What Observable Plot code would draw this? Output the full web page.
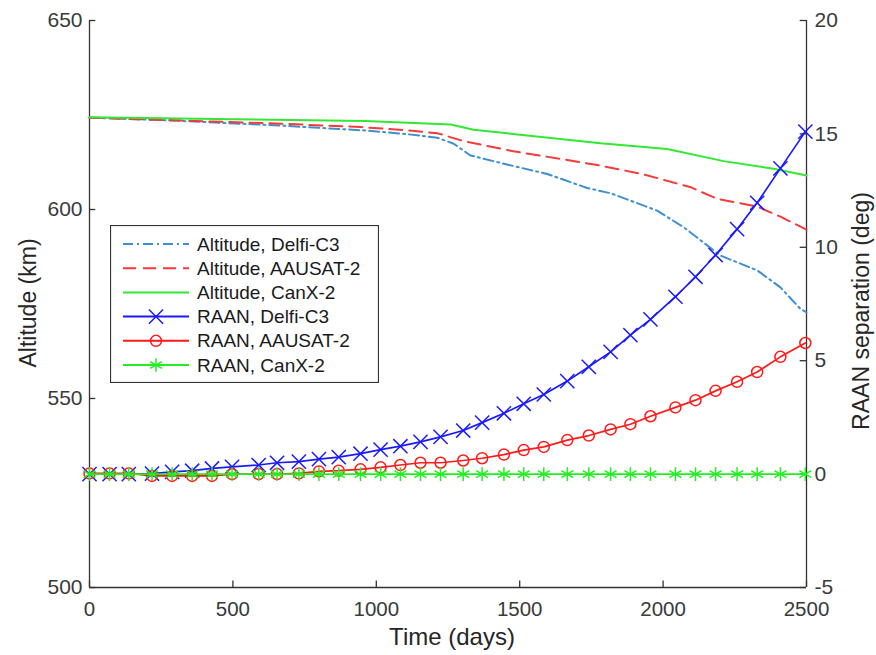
<!DOCTYPE html>
<html>
<head>
<meta charset="utf-8">
<script src="https://cdn.jsdelivr.net/npm/d3@7"></script>
<script src="https://cdn.jsdelivr.net/npm/@observablehq/plot@0.6"></script>
<style>
  html, body { margin: 0; padding: 0; background: #fff; }
  #wrap { position: relative; width: 876px; height: 655px; font-family: "Liberation Sans", Arial, sans-serif; }
  #legend { position: absolute; left: 110px; top: 225px; }
</style>
</head>
<body>
<div id="wrap"><div id="chart"></div><svg id="legend" width="269" height="158"></svg></div>
<script>
// ---- data ----
const xTicks = [0, 500, 1000, 1500, 2000, 2500];
const altTicks = [500, 550, 600, 650];
const raanTicks = [-5, 0, 5, 10, 15, 20];

// Altitude (km)
const altTimeDelfi = [0, 300, 666, 962, 1100, 1212, 1270, 1328, 1445, 1596, 1735, 1817, 1979, 2072, 2154, 2200, 2328, 2409, 2479, 2500];
const altDelfi     = [624.3, 623.5, 622.2, 620.9, 620.0, 619.0, 617.4, 614.3, 612.1, 609.4, 605.7, 604.3, 599.7, 595.3, 590.5, 587.8, 583.9, 579.4, 573.7, 572.8];
const altTimeAausat = [0, 300, 666, 945, 1100, 1212, 1304, 1478, 1666, 1782, 1932, 2096, 2189, 2328, 2409, 2500];
const altAausat     = [624.3, 623.6, 622.7, 621.8, 621.0, 620.2, 618.1, 615.4, 613.1, 611.6, 609.3, 605.9, 602.8, 600.8, 598.1, 594.7];
const altTimeCanx = [0, 500, 962, 1259, 1339, 1526, 1782, 2014, 2211, 2385, 2500];
const altCanx     = [624.4, 623.9, 623.4, 622.5, 621.1, 619.6, 617.5, 616.0, 612.8, 610.8, 609.0];

// RAAN separation (deg)
const raanTime = [0, 70, 137, 218, 288, 358, 427, 497, 590, 654, 730, 800, 869, 945, 1015, 1084, 1154, 1224, 1303, 1369, 1445, 1514, 1584, 1666, 1741, 1817, 1886, 1956, 2043, 2113, 2183, 2258, 2328, 2409, 2496];
const raanDelfi  = [0, 0, 0, 0.02, 0.1, 0.15, 0.25, 0.32, 0.4, 0.5, 0.55, 0.66, 0.75, 0.9, 1.08, 1.23, 1.42, 1.64, 1.92, 2.27, 2.68, 3.1, 3.51, 4.1, 4.73, 5.39, 6.13, 6.82, 7.82, 8.7, 9.66, 10.8, 11.96, 13.48, 15.1];
const raanAausat = [0.03, 0.03, 0.03, -0.08, -0.08, -0.08, -0.08, 0, 0, 0, 0.03, 0.12, 0.15, 0.21, 0.3, 0.4, 0.5, 0.5, 0.6, 0.7, 0.86, 1.06, 1.2, 1.5, 1.7, 1.97, 2.2, 2.55, 2.94, 3.26, 3.67, 4.07, 4.5, 5.17, 5.78];
const raanCanx   = [0, 0, 0, 0, 0, 0, 0, 0, 0, 0, 0, 0, 0, 0, 0, 0, 0, 0, 0, 0, 0, 0, 0, 0, 0, 0, 0, 0, 0, 0, 0, 0, 0, 0, 0];

const legendLabels = ["Altitude, Delfi-C3", "Altitude, AAUSAT-2", "Altitude, CanX-2", "RAAN, Delfi-C3", "RAAN, AAUSAT-2", "RAAN, CanX-2"];

// ---- styles ----
const cAltDelfi = "#3d8fd1", cAltAausat = "#f43a3a", cAltCanx = "#33e833";
const cRDelfi = "#1a1aff", cRAausat = "#ff1a1a", cRCanx = "#22ee22";
const dashDotted = "10,4,2,4", dashed = "13,7";
const axisColor = "#333";
const font = "'Liberation Sans', Arial, sans-serif";

// right axis maps RAAN [-5,20] onto altitude [500,650]
const toAlt = r => 500 + (r + 5) * 6;
const fromAlt = a => Math.round((a - 500) / 6 - 5);

const rows = (t, v) => t.map((x, i) => ({t: x, v: v[i]}));
const aD = rows(altTimeDelfi, altDelfi), aA = rows(altTimeAausat, altAausat), aC = rows(altTimeCanx, altCanx);
const rD = rows(raanTime, raanDelfi), rA = rows(raanTime, raanAausat), rC = rows(raanTime, raanCanx);

const chart = Plot.plot({
  width: 876, height: 655,
  marginLeft: 89, marginRight: 70, marginTop: 20, marginBottom: 68,
  x: {domain: [0, 2500]},
  y: {domain: [500, 650]},
  style: {fontFamily: font, fontSize: "20px", color: axisColor, background: "white", overflow: "visible"},
  marks: [
    Plot.axisX(xTicks, {tickSize: 0, tickPadding: 14, label: null, tickFormat: d => String(d), fill: "#3a3a3a", fontSize: 20.5}),
    Plot.axisY(altTicks, {anchor: "left", tickSize: 0, tickPadding: 7, label: null, tickFormat: d => String(d), fill: "#3a3a3a", fontSize: 21}),
    Plot.axisY(raanTicks.map(toAlt), {anchor: "right", tickSize: 0, tickPadding: 8, label: null, tickFormat: d => String(fromAlt(d)), fill: "#3a3a3a", fontSize: 21}),
    // inward tick marks (MATLAB style)
    Plot.ruleX(xTicks, {y1: 500, y2: 501.7, stroke: axisColor, strokeWidth: 1.3}),
    Plot.ruleY(altTicks, {x1: 0, x2: 22, stroke: axisColor, strokeWidth: 1.3}),
    Plot.ruleY(raanTicks.map(toAlt), {x1: 2478, x2: 2500, stroke: axisColor, strokeWidth: 1.3}),
    Plot.ruleX([0, 2500], {stroke: axisColor, strokeWidth: 1.3}),
    Plot.ruleY([500], {stroke: axisColor, strokeWidth: 1.3}),
    Plot.text(["Altitude (km)"], {frameAnchor: "left", textAnchor: "middle", lineAnchor: "middle", dx: -61, dy: -1, rotate: -90, fontSize: 23, fill: "#262626"}),
    Plot.text(["RAAN separation (deg)"], {frameAnchor: "right", textAnchor: "middle", lineAnchor: "middle", dx: 55, dy: 7, rotate: -90, fontSize: 23, fill: "#262626"}),
    Plot.text(["Time (days)"], {frameAnchor: "bottom", textAnchor: "middle", lineAnchor: "middle", dx: 4, dy: 50, fontSize: 24, fill: "#262626"}),
    // altitude
    Plot.line(aD, {x: "t", y: "v", stroke: cAltDelfi, strokeWidth: 2, strokeDasharray: dashDotted}),
    Plot.line(aA, {x: "t", y: "v", stroke: cAltAausat, strokeWidth: 2, strokeDasharray: dashed}),
    Plot.line(aC, {x: "t", y: "v", stroke: cAltCanx, strokeWidth: 2}),
    // RAAN
    Plot.line(rD, {x: "t", y: d => toAlt(d.v), stroke: cRDelfi, strokeWidth: 1.7}),
    Plot.dot(rD, {x: "t", y: d => toAlt(d.v), symbol: "times", r: 6.5, stroke: cRDelfi, strokeWidth: 1.5}),
    Plot.line(rA, {x: "t", y: d => toAlt(d.v), stroke: cRAausat, strokeWidth: 1.7}),
    Plot.dot(rA, {x: "t", y: d => toAlt(d.v), symbol: "circle", r: 5.5, stroke: cRAausat, strokeWidth: 1.5, fill: "none"}),
    Plot.line(rC, {x: "t", y: d => toAlt(d.v), stroke: cRCanx, strokeWidth: 1.7}),
    Plot.dot(rC, {x: "t", y: d => toAlt(d.v), symbol: "asterisk", r: 6.5, stroke: cRCanx, strokeWidth: 1.5})
  ]
});
document.getElementById("chart").appendChild(chart);

// ---- legend (inside plot, drawn with d3) ----
const legendStyle = [
  {color: cAltDelfi, dash: dashDotted, symbol: null},
  {color: cAltAausat, dash: dashed, symbol: null},
  {color: cAltCanx, dash: null, symbol: null},
  {color: cRDelfi, dash: null, symbol: d3.symbolTimes},
  {color: cRAausat, dash: null, symbol: d3.symbolCircle},
  {color: cRCanx, dash: null, symbol: d3.symbolAsterisk}
];
const lg = d3.select("#legend");
lg.append("rect").attr("x", 0.5).attr("y", 0.5).attr("width", 268).attr("height", 157)
  .attr("fill", "white").attr("stroke", "#333").attr("stroke-width", 1.2);
legendLabels.forEach((label, i) => {
  const s = legendStyle[i];
  const y = 19 + i * 24.2;
  lg.append("line").attr("x1", 13).attr("x2", 79).attr("y1", y).attr("y2", y)
    .attr("stroke", s.color).attr("stroke-width", 2).attr("stroke-dasharray", s.dash);
  if (s.symbol) {
    const size = s.symbol === d3.symbolCircle ? Math.PI * 5.5 * 5.5 : Math.PI * 6.5 * 6.5;
    lg.append("path").attr("transform", `translate(46,${y})`)
      .attr("d", d3.symbol(s.symbol, size)())
      .attr("fill", "none").attr("stroke", s.color).attr("stroke-width", 1.5);
  }
  lg.append("text").attr("x", 87).attr("y", y).attr("dy", "0.35em")
    .attr("font-size", 19).attr("fill", "#1a1a1a")
    .attr("font-family", font).text(label);
});
</script>
</body>
</html>
